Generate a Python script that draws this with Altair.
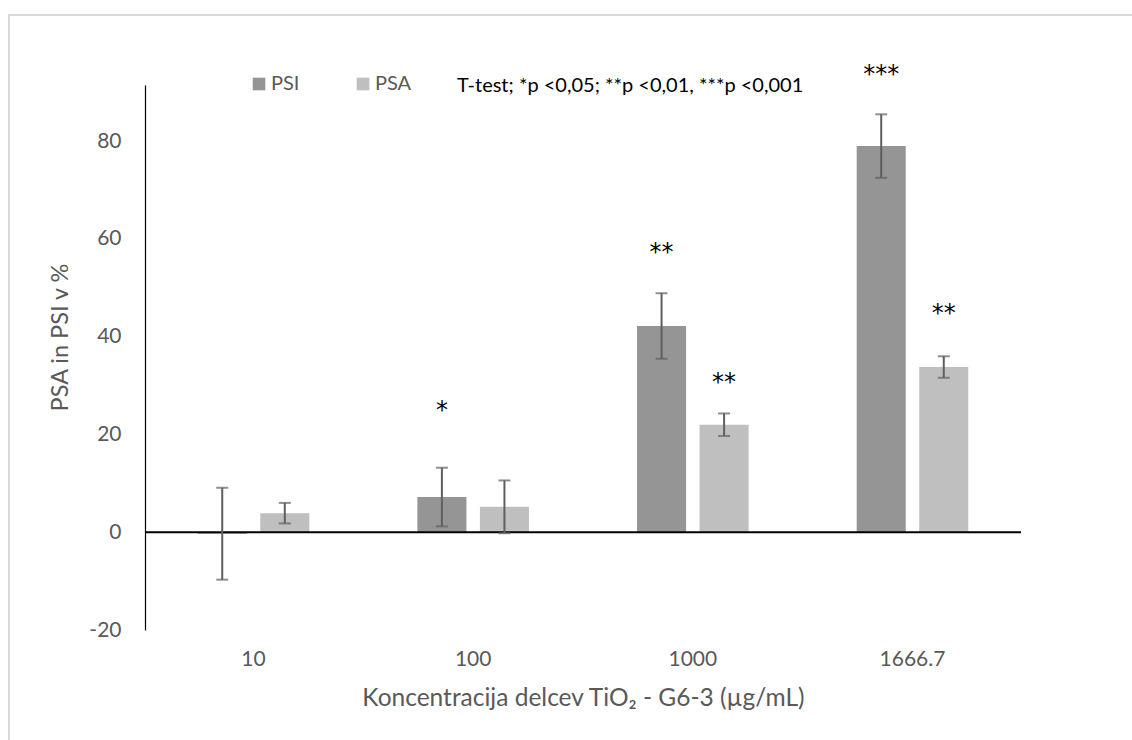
import altair as alt
import pandas as pd

categories = ["10", "100", "1000", "1666.7"]
series = ["PSI", "PSA"]
psi_values = [-0.3, 7.2, 42.2, 79.0]
psi_errors = [9.4, 6.0, 6.7, 6.5]
psa_values = [3.9, 5.2, 22.0, 33.8]
psa_errors = [2.1, 5.4, 2.3, 2.2]

ann_category = ["100", "1000", "1000", "1666.7", "1666.7"]
ann_series = ["PSI", "PSI", "PSA", "PSI", "PSA"]
ann_y = [26.0, 58.4, 31.8, 94.7, 45.9]
ann_text = ["*", "**", "**", "***", "**"]

note_text = "T-test; *p <0,05; **p <0,01, ***p <0,001"
x_title = "Koncentracija delcev TiO₂ - G6-3 (µg/mL)"
y_title = "PSA in PSI v %"

rows = []
for c, v, e in zip(categories, psi_values, psi_errors):
    rows.append({"cat": c, "series": "PSI", "value": v, "lo": v - e, "hi": v + e})
for c, v, e in zip(categories, psa_values, psa_errors):
    rows.append({"cat": c, "series": "PSA", "value": v, "lo": v - e, "hi": v + e})
df = pd.DataFrame(rows)
ann = pd.DataFrame({"cat": ann_category, "series": ann_series, "y": ann_y, "text": ann_text})

FONT = "Lato"
GRAY = "#595959"

x_scale = alt.Scale(domain=categories, paddingInner=0.492, paddingOuter=0.24)
xo_scale = alt.Scale(domain=series, paddingInner=0.216, paddingOuter=0)
y_scale = alt.Scale(domain=[-20, 91.5], nice=False, zero=False)

x_enc = alt.X("cat:N", scale=x_scale, sort=categories,
              axis=alt.Axis(title=x_title, labelAngle=0, domain=False, ticks=False,
                            labelPadding=18, labelFontSize=21, labelColor=GRAY,
                            labelFont=FONT, titleFont=FONT, titleFontSize=24.5,
                            titleColor=GRAY, titleFontWeight="normal", titlePadding=17))
xo_enc = alt.XOffset("series:N", scale=xo_scale, sort=series)
y_axis = alt.Axis(values=[-20, 0, 20, 40, 60, 80], grid=False, ticks=False,
                  labelExpr="toString(datum.value)",
                  labelPadding=24, labelFontSize=21, labelColor=GRAY, labelFont=FONT,
                  domainColor="black", domainWidth=1.2,
                  title=y_title, titleFont=FONT, titleFontSize=23.5, titleColor=GRAY,
                  titleFontWeight="normal", titlePadding=16, titleY=252)

bars = alt.Chart(df).mark_bar().encode(
    x=x_enc,
    xOffset=xo_enc,
    y=alt.Y("value:Q", scale=y_scale, axis=y_axis),
    color=alt.Color("series:N", sort=series,
                    scale=alt.Scale(domain=series, range=["#959595", "#bfbfbf"]),
                    legend=alt.Legend(orient="none", legendX=104, legendY=-11,
                                      direction="horizontal", title=None,
                                      symbolType="square", symbolSize=160,
                                      symbolStrokeWidth=0, labelFontSize=20,
                                      labelColor=GRAY, labelFont=FONT,
                                      columnPadding=53, labelOffset=2, padding=0)),
)

zero_rule = alt.Chart(pd.DataFrame({"z": [0]})).mark_rule(color="black", strokeWidth=2).encode(
    y=alt.Y("z:Q", scale=y_scale), x=alt.value(0), x2=alt.value(876)
)

err_rule = alt.Chart(df).mark_rule(color="#5f5f5f", strokeWidth=2).encode(
    x=alt.X("cat:N", scale=x_scale, sort=categories),
    xOffset=xo_enc,
    y=alt.Y("lo:Q", scale=y_scale),
    y2="hi:Q",
)
cap_lo = alt.Chart(df).mark_tick(color="#5f5f5f", thickness=2, size=12).encode(
    x=alt.X("cat:N", scale=x_scale, sort=categories),
    xOffset=xo_enc,
    y=alt.Y("lo:Q", scale=y_scale),
)
cap_hi = alt.Chart(df).mark_tick(color="#5f5f5f", thickness=2, size=12).encode(
    x=alt.X("cat:N", scale=x_scale, sort=categories),
    xOffset=xo_enc,
    y=alt.Y("hi:Q", scale=y_scale),
)

stars = alt.Chart(ann).mark_text(fontSize=24, font="DejaVu Sans", color="black",
                                 baseline="middle", dy=6).encode(
    x=alt.X("cat:N", scale=x_scale, sort=categories),
    xOffset=alt.XOffset("series:N", scale=xo_scale, sort=series),
    y=alt.Y("y:Q", scale=y_scale),
    text="text:N",
)

note = alt.Chart(pd.DataFrame({"t": [note_text]})).mark_text(
    font=FONT, fontSize=20, color="black", align="left", baseline="middle"
).encode(x=alt.value(312), y=alt.value(1), text="t:N")

frame = alt.Chart(pd.DataFrame({"f": [0]})).mark_rect(
    filled=False, stroke="#d9d9d9", strokeWidth=2
).encode(x=alt.value(-136), x2=alt.value(1200), y=alt.value(-70), y2=alt.value(900))

chart = alt.layer(frame, bars, zero_rule, err_rule, cap_lo, cap_hi, stars, note).properties(
    width=876, height=545,
    autosize=alt.AutoSizeParams(type="none"),
    padding={"left": 145, "top": 85, "right": 111, "bottom": 110},
).configure_view(stroke=None)

chart.save("out.html", embed_options={"renderer": "svg", "actions": False})
